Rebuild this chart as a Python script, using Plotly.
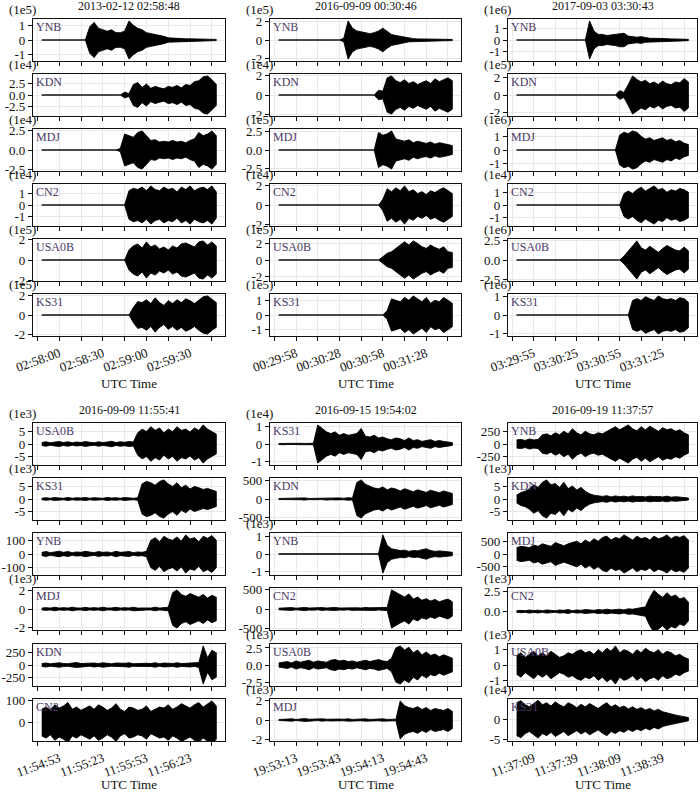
import math
import plotly.graph_objects as go

# seconds after the start of each 2-minute window, one envelope sample every 3 s
t = list(range(0, 121, 3))

titles = ["2013-02-12 02:58:48", "2016-09-09 00:30:46", "2017-09-03 03:30:43",
          "2016-09-09 11:55:41", "2016-09-15 19:54:02", "2016-09-19 11:37:57"]

time_labels = [
    ["02:58:00", "02:58:30", "02:59:00", "02:59:30"],
    ["00:29:58", "00:30:28", "00:30:58", "00:31:28"],
    ["03:29:55", "03:30:25", "03:30:55", "03:31:25"],
    ["11:54:53", "11:55:23", "11:55:53", "11:56:23"],
    ["19:53:13", "19:53:43", "19:54:13", "19:54:43"],
    ["11:37:09", "11:37:39", "11:38:09", "11:38:39"],
]

stations = [
    ["YNB", "KDN", "MDJ", "CN2", "USA0B", "KS31"],
    ["YNB", "KDN", "MDJ", "CN2", "USA0B", "KS31"],
    ["YNB", "KDN", "MDJ", "CN2", "USA0B", "KS31"],
    ["USA0B", "KS31", "YNB", "MDJ", "KDN", "CN2"],
    ["KS31", "KDN", "YNB", "CN2", "USA0B", "MDJ"],
    ["YNB", "KDN", "MDJ", "CN2", "USA0B", "KS31"],
]

# scale factor shown above each trace ("" = none)
offsets = [
    ["1e5", "1e4", "1e4", "1e4", "1e5", "1e5"],
    ["1e5", "1e4", "1e5", "1e4", "1e5", "1e5"],
    ["1e6", "1e5", "1e6", "1e4", "1e6", "1e6"],
    ["1e3", "1e3", "", "1e3", "", ""],
    ["1e4", "", "1e3", "", "1e3", "1e3"],
    ["", "1e3", "", "1e3", "1e3", "1e4"],
]

# y tick step of each trace
y_steps = [
    [1, 2.5, 2.5, 1, 2, 2],
    [2, 2, 2.5, 2, 2, 1],
    [1, 2, 1, 1, 2.5, 1],
    [5, 5, 100, 2, 250, 100],
    [1, 500, 1, 500, 2.5, 2],
    [250, 5, 500, 2.5, 1, 5],
]

# amplitude envelopes (in the units of each trace's axis)
env_a = [
    [0, 0, 0, 0, 0, 0, 0, 0, 0, 0, 0, 0.9, 1.2, 0.8, 0.7, 0.6, 0.7, 0.5, 0.5, 0.6, 1.3,
     1.0, 0.8, 0.7, 0.5, 0.45, 0.35, 0.3, 0.25, 0.15, 0.12, 0.1, 0.1, 0.08, 0.08, 0.07,
     0.1, 0.06, 0.06, 0.05, 0.04],
    [0, 0, 0, 0, 0, 0, 0, 0, 0, 0, 0, 0, 0, 0, 0, 0, 0, 0, 0, 0.6, 0.3, 2.2, 2.6, 1.6,
     2.3, 1.4, 1.8, 1.5, 1.3, 1.8, 1.6, 2.0, 1.5, 2.2, 2.0, 2.8, 3.0, 3.8, 4.0, 3.2, 2.2],
    [0, 0, 0, 0, 0, 0, 0, 0, 0, 0, 0, 0, 0, 0, 0, 0, 0, 0, 0.2, 2.0, 1.8, 1.6, 2.2, 2.4,
     1.8, 1.2, 1.3, 1.0, 1.1, 1.0, 1.2, 1.0, 1.1, 0.9, 1.2, 1.4, 2.2, 1.8, 2.0, 2.4, 1.8],
    [0, 0, 0, 0, 0, 0, 0, 0, 0, 0, 0, 0, 0, 0, 0, 0, 0, 0, 0, 0, 1.2, 1.4, 1.3, 1.5, 1.2,
     1.6, 1.3, 1.2, 1.5, 1.3, 1.4, 1.1, 1.5, 1.3, 1.6, 1.2, 1.4, 1.5, 1.3, 1.6, 1.1],
    [0, 0, 0, 0, 0, 0, 0, 0, 0, 0, 0, 0, 0, 0, 0, 0, 0, 0, 0, 0, 1.0, 1.4, 1.6, 1.2, 1.8,
     1.3, 1.5, 1.1, 1.3, 1.0, 1.4, 1.2, 1.6, 1.7, 1.5, 1.3, 1.8, 1.9, 1.5, 1.8, 1.4],
    [0, 0, 0, 0, 0, 0, 0, 0, 0, 0, 0, 0, 0, 0, 0, 0, 0, 0, 0, 0, 0, 0.8, 1.4, 1.3, 1.6,
     1.2, 1.8, 1.3, 1.0, 1.5, 1.2, 1.6, 1.3, 1.7, 1.5, 1.2, 1.6, 1.9, 2.0, 1.6, 1.3],
]
env_b = [
    [0, 0, 0, 0, 0, 0, 0, 0, 0, 0, 0, 0, 0, 0, 0, 0.2, 2.1, 1.3, 1.0, 0.9, 0.8, 0.7, 0.8,
     1.0, 1.3, 0.9, 0.6, 0.5, 0.4, 0.3, 0.2, 0.15, 0.12, 0.1, 0.1, 0.1, 0.08, 0.1, 0.08,
     0.07, 0.06],
    [0, 0, 0, 0, 0, 0, 0, 0, 0, 0, 0, 0, 0, 0, 0, 0, 0, 0, 0, 0, 0, 0, 0, 0.5, 0.4, 1.8,
     2.0, 1.5, 1.3, 1.6, 1.2, 1.4, 1.1, 1.3, 1.5, 1.2, 1.7, 1.4, 1.6, 1.8, 1.5],
    [0, 0, 0, 0, 0, 0, 0, 0, 0, 0, 0, 0, 0, 0, 0, 0, 0, 0, 0, 0, 0, 0, 0, 2.4, 2.0, 2.2,
     2.6, 1.5, 1.3, 1.2, 1.4, 1.0, 1.2, 1.0, 0.9, 1.1, 0.8, 1.0, 0.9, 0.8, 0.6],
    [0, 0, 0, 0, 0, 0, 0, 0, 0, 0, 0, 0, 0, 0, 0, 0, 0, 0, 0, 0, 0, 0, 0, 0, 0.6, 1.7,
     1.4, 1.8, 1.5, 2.0, 1.4, 1.6, 1.2, 1.4, 1.1, 1.5, 1.3, 1.6, 1.8, 1.5, 1.2],
    [0, 0, 0, 0, 0, 0, 0, 0, 0, 0, 0, 0, 0, 0, 0, 0, 0, 0, 0, 0, 0, 0, 0, 0, 0.4, 0.8,
     1.0, 1.4, 1.8, 2.2, 1.8, 2.3, 2.0, 1.6, 1.4, 1.8, 1.5, 1.3, 1.6, 1.0, 0.9],
    [0, 0, 0, 0, 0, 0, 0, 0, 0, 0, 0, 0, 0, 0, 0, 0, 0, 0, 0, 0, 0, 0, 0, 0, 0, 0.3, 1.1,
     1.0, 0.9, 1.2, 1.0, 1.3, 1.1, 0.9, 1.2, 0.8, 1.0, 0.9, 1.2, 1.0, 0.8],
]
env_c = [
    [0, 0, 0, 0, 0, 0, 0, 0, 0, 0, 0, 0, 0, 0, 0, 0, 0, 1.7, 0.8, 0.5, 0.5, 0.4, 0.45,
     0.5, 0.6, 0.6, 0.35, 0.3, 0.25, 0.3, 0.2, 0.15, 0.15, 0.12, 0.1, 0.12, 0.1, 0.08,
     0.08, 0.07, 0.06],
    [0, 0, 0, 0, 0, 0, 0, 0, 0, 0, 0, 0, 0, 0, 0, 0, 0, 0, 0, 0, 0, 0, 0, 0, 0.5, 0.3,
     1.2, 2.2, 1.8, 1.5, 1.7, 1.3, 1.5, 1.2, 1.6, 1.3, 1.2, 1.5, 1.4, 1.9, 1.5],
    [0, 0, 0, 0, 0, 0, 0, 0, 0, 0, 0, 0, 0, 0, 0, 0, 0, 0, 0, 0, 0, 0, 0, 0, 1.1, 1.3,
     1.2, 1.4, 1.3, 1.0, 0.8, 0.9, 0.7, 0.8, 0.9, 0.7, 0.8, 0.6, 0.7, 0.5, 0.4],
    [0, 0, 0, 0, 0, 0, 0, 0, 0, 0, 0, 0, 0, 0, 0, 0, 0, 0, 0, 0, 0, 0, 0, 0, 0, 0.9, 1.1,
     0.9, 1.2, 1.4, 1.1, 1.3, 1.5, 1.2, 1.3, 1.0, 1.2, 1.1, 1.3, 1.2, 1.0],
    [0, 0, 0, 0, 0, 0, 0, 0, 0, 0, 0, 0, 0, 0, 0, 0, 0, 0, 0, 0, 0, 0, 0, 0, 0, 0.5, 1.2,
     1.8, 2.5, 1.6, 1.3, 1.8, 1.4, 1.0, 1.5, 1.9, 1.6, 1.3, 1.2, 1.7, 1.2],
    [0, 0, 0, 0, 0, 0, 0, 0, 0, 0, 0, 0, 0, 0, 0, 0, 0, 0, 0, 0, 0, 0, 0, 0, 0, 0, 0, 0.8,
     0.9, 0.8, 1.0, 0.9, 0.8, 1.05, 0.9, 0.85, 0.9, 0.8, 0.95, 0.9, 0.7],
]
env_d = [
    [0.6, 0.9, 0.5, 0.8, 1.0, 0.6, 0.9, 0.5, 0.8, 0.6, 1.0, 0.7, 0.5, 0.9, 0.6, 0.8, 1.1,
     0.6, 0.9, 0.7, 1.0, 0.8, 4.5, 6.0, 5.0, 7.0, 5.5, 6.5, 4.5, 6.0, 5.0, 7.0, 5.5, 6.0,
     4.8, 6.5, 5.5, 7.7, 6.0, 5.0, 4.0],
    [0.3, 0.5, 0.3, 0.6, 0.4, 0.3, 0.6, 0.3, 0.5, 0.4, 0.6, 0.3, 0.5, 0.4, 0.3, 0.6, 0.4,
     0.5, 0.3, 0.6, 0.4, 0.3, 0.5, 6.0, 7.0, 6.5, 5.5, 7.0, 7.6, 6.0, 5.0, 6.5, 4.5, 5.5,
     4.0, 5.0, 4.5, 3.8, 4.2, 3.5, 3.0],
    [12, 18, 10, 15, 20, 12, 18, 10, 15, 12, 20, 14, 10, 18, 12, 15, 10, 20, 12, 15, 18,
     10, 15, 12, 20, 100, 120, 90, 130, 110, 100, 125, 95, 140, 110, 120, 90, 130, 115,
     135, 100],
    [0.1, 0.15, 0.1, 0.2, 0.1, 0.15, 0.1, 0.2, 0.12, 0.1, 0.18, 0.1, 0.15, 0.1, 0.2, 0.1,
     0.12, 0.18, 0.1, 0.15, 0.1, 0.2, 0.1, 0.15, 0.12, 0.1, 0.2, 0.1, 0.15, 0.2, 1.8, 2.1,
     1.6, 1.4, 1.7, 1.5, 1.3, 1.6, 1.2, 1.5, 1.3],
    [30, 40, 25, 35, 45, 30, 25, 40, 50, 30, 35, 25, 40, 30, 45, 35, 25, 40, 30, 35, 45,
     25, 30, 40, 35, 30, 45, 25, 40, 35, 30, 45, 30, 35, 40, 30, 50, 390, 150, 300, 250],
    [60, 70, 55, 80, 65, 75, 90, 60, 70, 55, 65, 75, 60, 80, 70, 55, 65, 85, 60, 50, 70,
     65, 55, 60, 75, 50, 60, 70, 65, 80, 60, 70, 85, 75, 65, 80, 90, 70, 85, 97, 75],
]
env_e = [
    [0.03, 0.04, 0.03, 0.05, 0.03, 0.04, 0.03, 0.05, 0.04, 1.1, 0.9, 0.7, 0.6, 0.7, 0.5,
     0.6, 0.5, 0.55, 0.6, 0.9, 0.45, 0.4, 0.5, 0.35, 0.4, 0.3, 0.25, 0.35, 0.3, 0.2, 0.35,
     0.2, 0.25, 0.15, 0.2, 0.25, 0.15, 0.2, 0.15, 0.12, 0.08],
    [15, 20, 15, 25, 15, 20, 30, 15, 20, 25, 15, 30, 20, 25, 30, 20, 35, 25, 450, 520, 400,
     350, 300, 280, 330, 250, 300, 270, 220, 280, 230, 200, 250, 220, 180, 240, 200, 170,
     220, 190, 150],
    [0.01, 0.01, 0.01, 0.01, 0.01, 0.01, 0.01, 0.01, 0.01, 0.01, 0.01, 0.01, 0.01, 0.01,
     0.01, 0.01, 0.01, 0.01, 0.01, 0.01, 0.01, 0.01, 0.01, 0.01, 1.1, 0.5, 0.3, 0.25, 0.2,
     0.22, 0.15, 0.2, 0.18, 0.25, 0.3, 0.2, 0.15, 0.18, 0.15, 0.12, 0.1],
    [20, 30, 25, 35, 20, 30, 40, 25, 30, 20, 35, 25, 30, 40, 25, 30, 20, 35, 30, 25, 40,
     30, 35, 25, 30, 40, 480, 420, 350, 300, 380, 250, 300, 220, 260, 200, 240, 180, 220,
     250, 180],
    [0.3, 0.4, 0.5, 0.3, 0.6, 0.4, 0.5, 0.7, 0.4, 0.6, 0.5, 0.4, 0.7, 0.8, 0.6, 0.7, 0.5,
     0.6, 0.4, 0.5, 0.7, 0.5, 0.6, 0.8, 0.6, 0.5, 1.0, 2.5, 2.8, 2.2, 2.6, 1.8, 2.2, 1.5,
     1.9, 1.4, 1.6, 1.2, 1.5, 1.3, 1.0],
    [0.05, 0.1, 0.08, 0.12, 0.06, 0.1, 0.15, 0.08, 0.1, 0.06, 0.12, 0.08, 0.1, 0.06, 0.1,
     0.08, 0.12, 0.06, 0.1, 0.08, 0.12, 0.06, 0.1, 0.08, 0.12, 0.06, 0.1, 0.08, 2.0, 1.5,
     1.3, 1.2, 1.4, 1.1, 1.3, 1.0, 1.2, 1.1, 1.0, 1.2, 0.9],
]
env_f = [
    [80, 90, 70, 100, 80, 90, 180, 200, 160, 220, 180, 250, 200, 300, 220, 180, 250, 200,
     180, 220, 200, 250, 300, 340, 280, 320, 375, 300, 260, 340, 280, 350, 300, 250, 320,
     280, 300, 250, 280, 220, 180],
    [1.5, 2.5, 3.0, 4.0, 5.5, 4.5, 6.5, 7.4, 5.5, 6.0, 4.5, 6.5, 4.0, 5.0, 3.5, 4.5, 3.0,
     2.0, 1.5, 1.2, 1.0, 1.3, 0.8, 1.2, 0.9, 1.1, 0.8, 1.2, 0.9, 1.0, 0.8, 1.1, 0.9, 1.0,
     0.8, 1.1, 0.7, 0.9, 0.8, 0.6, 0.4],
    [250, 300, 280, 250, 350, 300, 400, 350, 300, 450, 380, 320, 400, 450, 500, 400, 550,
     450, 600, 500, 650, 700, 550, 650, 600, 750, 650, 550, 700, 600, 650, 550, 700, 600,
     650, 750, 600, 700, 650, 720, 550],
    [0.1, 0.15, 0.1, 0.2, 0.12, 0.18, 0.1, 0.2, 0.15, 0.1, 0.2, 0.15, 0.25, 0.1, 0.2, 0.15,
     0.25, 0.2, 0.15, 0.25, 0.2, 0.3, 0.2, 0.25, 0.3, 0.2, 0.35, 0.3, 0.4, 0.5, 0.6, 1.8,
     2.7, 2.2, 1.8, 2.4, 1.9, 2.1, 1.6, 1.8, 1.2],
    [0.6, 0.8, 0.5, 0.7, 0.9, 0.6, 0.8, 0.6, 0.9, 0.7, 0.5, 0.6, 0.8, 0.7, 0.9, 1.0, 0.8,
     0.9, 0.7, 1.0, 0.8, 1.1, 0.9, 1.25, 0.8, 1.0, 0.9, 0.7, 1.0, 0.8, 1.1, 0.9, 0.8, 1.0,
     0.7, 0.9, 0.8, 0.6, 0.7, 0.5, 0.4],
    [4.0, 4.5, 3.5, 3.0, 3.8, 4.6, 3.5, 4.0, 3.2, 4.2, 3.5, 3.0, 4.0, 3.5, 2.8, 3.6, 3.0,
     3.8, 3.2, 2.6, 3.4, 4.0, 3.0, 3.5, 2.8, 3.2, 2.5, 3.0, 2.4, 2.8, 2.2, 2.6, 2.0, 2.4,
     1.8, 1.5, 1.2, 1.0, 0.8, 0.6, 0.4],
]
envelopes = [env_a, env_b, env_c, env_d, env_e, env_f]

# axes whose limits are not symmetric in the original
y_override = {(3, 5): (-83, 106), (5, 3): (-2.35, 3.0), (5, 5): (-5.3, 4.9)}

W, H = 700, 792
FONT = "Liberation Serif, Times New Roman, serif"
col_px = [(33, 225), (270, 461), (508, 697)]
row_top = [[19, 74, 129, 184, 239, 294], [423, 478, 533, 588, 644, 699]]
box_h = 42
title_y = [6, 410]
xlabel_y = [383, 784]

x_ticks = [-3, 12, 27, 42, 57, 72, 87, 102, 117]

fig = go.Figure()
layout = {}
ann = []

for p in range(6):
    g, c = divmod(p, 3)
    x0, x1 = col_px[c]
    texts = []
    for v in x_ticks:
        texts.append(time_labels[p][(v - 12) // 30] if (v - 12) % 30 == 0 else "")
    for r in range(6):
        k = p * 6 + r + 1
        sfx = "" if k == 1 else str(k)
        e = envelopes[p][r]
        assert len(e) == len(t), (p, r, len(e))
        top = row_top[g][r]

        fig.add_trace(go.Scatter(
            x=t + t[::-1], y=e + [-v for v in e[::-1]],
            mode="lines", fill="toself", fillcolor="black",
            line=dict(color="black", width=0.9),
            xaxis=f"x{sfx}", yaxis=f"y{sfx}", hoverinfo="skip", showlegend=False))

        m = max(e)
        lo, hi = y_override.get((p, r), (-1.1 * m, 1.1 * m))
        s = y_steps[p][r]
        vals = [i * s for i in range(math.ceil(lo / s), math.floor(hi / s) + 1)]
        if float(s).is_integer():
            ytext = [str(int(v)) for v in vals]
        else:
            ytext = [f"{v:.1f}" for v in vals]

        common = dict(showline=True, linecolor="#111", linewidth=1.2, mirror=True,
                      ticks="outside", ticklen=4, tickwidth=1.2, tickcolor="#111",
                      showgrid=True, gridcolor="#e9e9e9", gridwidth=0.8,
                      zeroline=False, automargin=False,
                      tickfont=dict(family=FONT, size=13, color="#111"))
        layout[f"xaxis{sfx}"] = dict(
            common, domain=[x0 / W, x1 / W], anchor=f"y{sfx}", range=[-6, 126],
            tickmode="array", tickvals=x_ticks, ticktext=texts,
            showticklabels=(r == 5), tickangle=-20)
        layout[f"yaxis{sfx}"] = dict(
            common, domain=[1 - (top + box_h) / H, 1 - top / H], anchor=f"x{sfx}",
            range=[lo, hi], tickmode="array", tickvals=vals, ticktext=ytext)

        ann.append(dict(text=stations[p][r], xref=f"x{sfx} domain", yref=f"y{sfx} domain",
                        x=0, y=1, xanchor="left", yanchor="top", xshift=1, yshift=1,
                        showarrow=False, font=dict(family=FONT, size=12, color="#4a3866")))
        if offsets[p][r]:
            ann.append(dict(text=f"({offsets[p][r]})", xref=f"x{sfx} domain",
                            yref=f"y{sfx} domain", x=0, y=1, xanchor="right",
                            yanchor="bottom", xshift=5, yshift=0, showarrow=False,
                            font=dict(family=FONT, size=13, color="#111")))

    cx = (x0 + x1) / 2 / W
    ann.append(dict(text=titles[p], xref="paper", yref="paper", x=cx,
                    y=1 - title_y[g] / H, xanchor="center", yanchor="middle",
                    showarrow=False, font=dict(family=FONT, size=12, color="#111")))
    ann.append(dict(text="UTC Time", xref="paper", yref="paper", x=cx,
                    y=1 - xlabel_y[g] / H, xanchor="center", yanchor="middle",
                    showarrow=False, font=dict(family=FONT, size=13, color="#111")))

fig.update_layout(**layout)
fig.update_layout(width=W, height=H, margin=dict(l=0, r=0, t=0, b=0),
                  paper_bgcolor="white", plot_bgcolor="white",
                  annotations=ann, showlegend=False)
# page default body margin would push the figure 8 px off the corner
fig.write_html("out.html", config={"displayModeBar": False},
               post_script="document.body.style.margin='0px';")
